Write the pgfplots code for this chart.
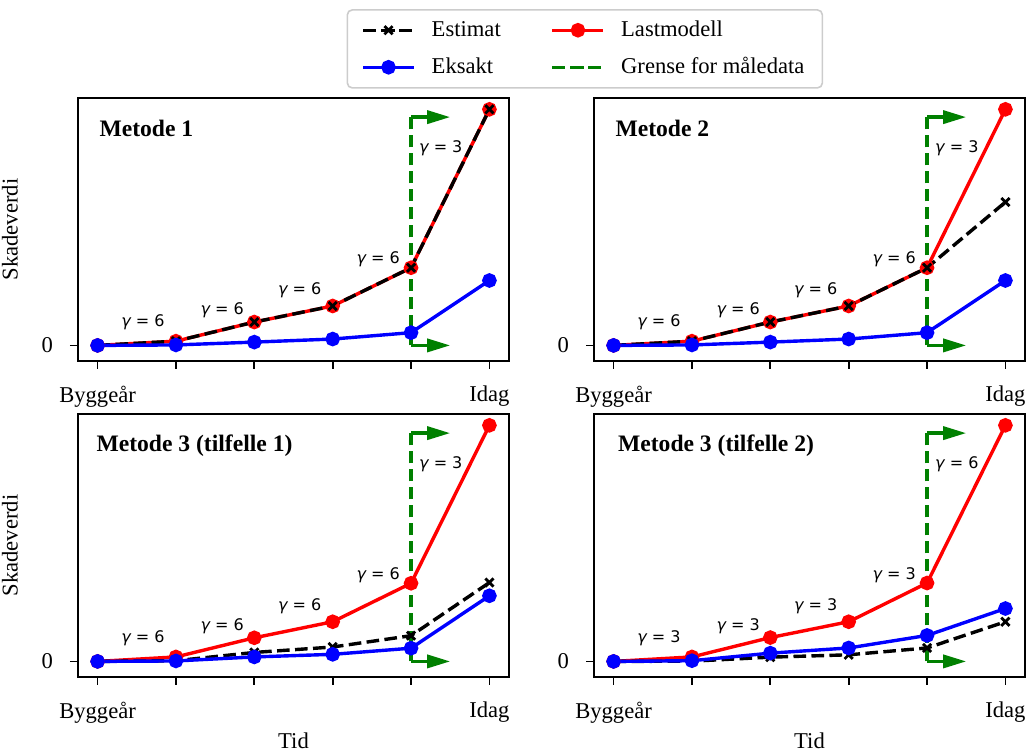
\documentclass[border=0pt]{standalone}
\usepackage{fontspec}
\setmainfont{Liberation Serif}
\newfontfamily\dejavu{DejaVu Sans}
\usepackage{pgfplots}
\usepackage{pgfplotstable}
\pgfplotsset{compat=1.18}
\usepgfplotslibrary{groupplots}
\usetikzlibrary{arrows.meta}

\definecolor{mplgreen}{RGB}{0,128,0}

% columns: time step, Lastmodell, Estimat, Eksakt
\pgfplotstableread{
x lm est eks
0 0 0 0
1 1.8 1.8 0.2
2 9.9 9.9 1.4
3 16.7 16.7 2.7
4 32.9 32.9 5.4
5 100 100 27.5
}\tabA
\pgfplotstableread{
x lm est eks
0 0 0 0
1 1.8 1.8 0.2
2 9.9 9.9 1.4
3 16.7 16.7 2.7
4 32.9 32.9 5.4
5 100 60.7 27.5
}\tabB
\pgfplotstableread{
x lm est eks
0 0 0 0
1 1.9 0.3 0.2
2 10.0 3.8 1.9
3 16.8 6.1 3.0
4 33.1 10.9 5.6
5 100 33.4 27.8
}\tabC
\pgfplotstableread{
x lm est eks
0 0 0 0
1 1.9 0.1 0.3
2 10.1 1.8 3.5
3 16.8 2.8 5.7
4 33.2 5.7 11.0
5 100 16.8 22.4
}\tabD

\newcommand{\lblfont}{\fontsize{11.3}{13.5}\selectfont}

\tikzset{
  lastm/.style={red, line width=1.7pt, mark=*, mark size=2.8pt, mark options={solid}},
  estim/.style={black, line width=1.7pt, dash pattern=on 6.3pt off 2.7pt, mark=x, mark size=2.9pt, mark options={solid, line width=1.4pt}},
  eksakt/.style={blue, line width=1.7pt, mark=*, mark size=2.8pt, mark options={solid}},
  grense/.style={mplgreen, line width=1.7pt, dash pattern=on 6.3pt off 2.7pt},
  pil/.style={mplgreen, line width=1.7pt, solid, -{Triangle[length=11.5pt,width=6.5pt]}},
  gam/.style={font=\dejavu\fontsize{8}{9.6}\selectfont, anchor=center, inner sep=0pt},
  ttl/.style={font=\bfseries\fontsize{11.8}{14}\selectfont, anchor=base west, inner sep=0pt},
}

\newcommand{\serier}[1]{%
  \addplot[grense, forget plot] coordinates {(4,0) (4,96.7)};
  \addplot[pil, forget plot] coordinates {(4,96.7) (4.5,96.7)};
  \addplot[pil, forget plot] coordinates {(4,0) (4.5,0)};
  \addplot[lastm, forget plot] table[x=x, y=lm] {#1};
  \addplot[estim, forget plot] table[x=x, y=est] {#1};
  \addplot[eksakt, forget plot] table[x=x, y=eks] {#1};
}
\newcommand{\gammaer}[5]{%
  \node[gam] at (axis cs:0.58,9.7) {{\itshape γ} = #1};
  \node[gam] at (axis cs:1.59,14.8) {{\itshape γ} = #2};
  \node[gam] at (axis cs:2.58,23.3) {{\itshape γ} = #3};
  \node[gam] at (axis cs:3.58,36.4) {{\itshape γ} = #4};
  \node[gam] at (axis cs:4.38,83.5) {{\itshape γ} = #5};
}

\begin{document}
\begin{tikzpicture}
\begin{groupplot}[
  group style={group name=G, group size=2 by 2, horizontal sep=42.5pt, vertical sep=26.5pt},
  scale only axis, width=215.5pt, height=131.5pt,
  xmin=-0.25, xmax=5.25, ymin=-6.6, ymax=104.8,
  xtick={0,1,2,3,4,5}, xticklabels={Byggeår,,,,,Idag},
  ytick={0}, yticklabels={0},
  tick align=outside, major tick length=4pt,
  xtick pos=left, ytick pos=left,
  axis line style={line width=0.9pt},
  every tick/.style={black, line width=0.9pt},
  tick label style={font=\lblfont},
  xticklabel style={yshift=-5pt},
  yticklabel style={xshift=-5pt},
  every axis y label/.style={at={(rel axis cs:-0.158,0.5)}, rotate=90, anchor=center, font=\lblfont},
  every axis x label/.style={at={(rel axis cs:0.5,-0.242)}, anchor=center, font=\lblfont},
  legend image code/.code={\draw[mark repeat=2, mark phase=2, #1] plot coordinates {(0pt,0pt) (12.75pt,0pt) (25.5pt,0pt)};},
]
\nextgroupplot[ylabel={Skadeverdi},
  legend columns=2,
  legend cell align=left,
  legend style={at={(rel axis cs:1.176,1.338)}, anchor=north,
    draw=black!20, line width=0.8pt, rounded corners=2.5pt, fill=white,
    font=\lblfont,
    inner xsep=7pt, inner ysep=3.5pt, row sep=5pt,
    /tikz/every even column/.append style={column sep=23pt},
    /tikz/every odd column/.append style={column sep=6pt}},
]
\addlegendimage{estim}\addlegendentry{Estimat}
\addlegendimage{lastm}\addlegendentry{Lastmodell}
\addlegendimage{eksakt}\addlegendentry{Eksakt}
\addlegendimage{grense}\addlegendentry{Grense for måledata}
\serier{\tabA}
\gammaer{6}{6}{6}{6}{3}
\node[ttl] at (rel axis cs:0.049,0.855) {Metode 1};

\nextgroupplot
\serier{\tabB}
\gammaer{6}{6}{6}{6}{3}
\node[ttl] at (rel axis cs:0.049,0.855) {Metode 2};

\nextgroupplot[ylabel={Skadeverdi}, xlabel={Tid}]
\serier{\tabC}
\gammaer{6}{6}{6}{6}{3}
\node[ttl] at (rel axis cs:0.042,0.857) {Metode 3 (tilfelle 1)};

\nextgroupplot[xlabel={Tid}]
\serier{\tabD}
\gammaer{3}{3}{3}{3}{6}
\node[ttl] at (rel axis cs:0.055,0.857) {Metode 3 (tilfelle 2)};
\end{groupplot}
\pgfresetboundingbox
\useasboundingbox (G c1r1.north west) ++(-39pt,49pt) rectangle ++(513.5pt,-377pt);
\end{tikzpicture}
\end{document}
